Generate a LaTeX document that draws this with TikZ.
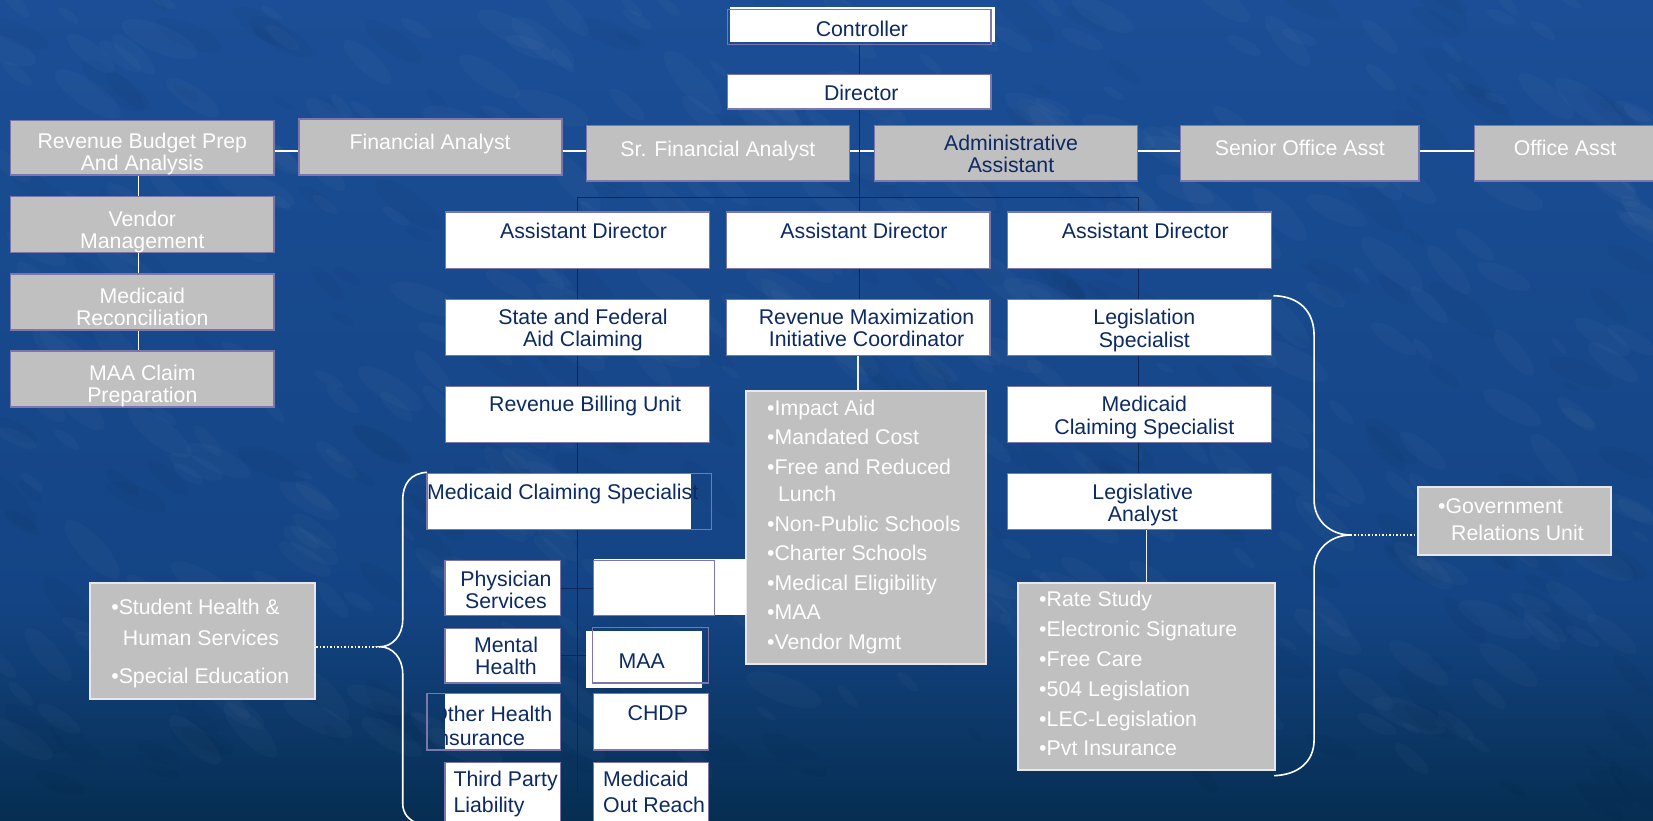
\documentclass[tikz,border=0pt]{standalone}
\usepackage{fontspec}
\setmainfont{Liberation Sans}
\usetikzlibrary{fit}
\definecolor{navy}{RGB}{12,42,100}
\definecolor{boxgray}{RGB}{192,192,192}
\definecolor{boxedge}{RGB}{125,118,170}
\definecolor{darkline}{RGB}{12,38,85}
\definecolor{bgtop}{RGB}{27,78,150}
\definecolor{bgmid}{RGB}{20,68,132}
\definecolor{bgbot}{RGB}{6,46,82}
\definecolor{listedge}{RGB}{232,232,236}
\newcommand\boxfont{\fontsize{21.3}{22.2}\selectfont}
\newcommand\topstrut{\rule{0pt}{15.5pt}}
\newcommand\botstrut{\rule[-5pt]{0pt}{5pt}}
\pgfdeclarelayer{back}
\pgfdeclarelayer{lines}
\pgfsetlayers{back,lines,main}
\begin{document}
\begin{tikzpicture}[x=1.0542pt, y=-1.0542pt,
 gbox/.style={draw=boxedge, fill=boxgray, line width=1.3pt, inner sep=0pt},
 wbox/.style={draw=boxedge, fill=white, line width=1.3pt, inner sep=0pt},
 obox/.style={draw=boxedge, line width=1.3pt, inner sep=0pt},
 lbox/.style={draw=listedge, fill=boxgray, line width=2pt, inner sep=0pt},
 ntxt/.style={text=navy, font=\boxfont, align=center, inner sep=0pt,
   execute at begin node=\topstrut, execute at end node=\botstrut},
 wtxt/.style={text=white, font=\boxfont, align=center, inner sep=0pt,
   execute at begin node=\topstrut, execute at end node=\botstrut},
 wlink/.style={draw=white, line width=1.5pt},
 darkln/.style={draw=darkline, line width=1.2pt},
 bracel/.style={draw=white, line width=1.6pt},
 dotln/.style={draw=white, line width=1.5pt, dotted},
]
\useasboundingbox (0,0) rectangle (1568,778);

% ---------- boxes ----------
\fill[white] (692,7) rectangle (944,40);
\node[obox, fit={(690,9)(940,42)}] (ctrl) {};
\node[wbox, fit={(690,71)(940,103.5)}] (dir) {};

\node[gbox, fit={(10,114)(260,166)}] (rbp) {};
\node[gbox, fit={(283.6,113)(533,166)}] (fa) {};
\node[gbox, fit={(556.5,119)(806,171.7)}] (srfa) {};
\node[gbox, fit={(829.7,119)(1079,171.7)}] (admin) {};
\node[gbox, fit={(1120,119)(1346,171.7)}] (soa) {};
\node[gbox, fit={(1398.8,119)(1590,171.7)}] (oa) {};

\node[gbox, fit={(10,186.6)(260,239.7)}] (vend) {};
\node[gbox, fit={(10,260)(260,313)}] (mrec) {};
\node[gbox, fit={(10,333)(260,386)}] (maac) {};

\node[wbox, fit={(422.8,201)(673,254.6)}] (ad1) {};
\node[wbox, fit={(689,201)(939,254.6)}] (ad2) {};
\node[wbox, fit={(955.8,201)(1206,254.6)}] (ad3) {};
\node[wbox, fit={(422.8,284)(673,337.4)}] (sfac) {};
\node[wbox, fit={(689,284)(939,337.4)}] (revmax) {};
\node[wbox, fit={(955.8,284)(1206,337.4)}] (legsp) {};
\node[wbox, fit={(422.8,366.8)(673,419.5)}] (rbu) {};
\node[wbox, fit={(955.8,366.8)(1206,419.5)}] (mcs2) {};
\node[wbox, fit={(955.8,449)(1206,502)}] (legan) {};

\node[lbox, fit={(707.5,370.6)(935.5,630)}] (impact) {};
\node[lbox, fit={(965.7,552.7)(1209.6,730.4)}] (rate) {};

\fill[white] (405,449) rectangle (655.5,502);
\node[obox, fit={(405,449)(675,502)}] (mcs1) {};
\node[wbox, fit={(422,532)(532,584)}] (phys) {};
\fill[white] (563,530) rectangle (708,583);
\node[obox, fit={(563,532)(678,584)}] (blank) {};
\node[wbox, fit={(422,596)(532,648)}] (mental) {};
\fill[white] (556,598.6) rectangle (666,652.7);
\node[obox, fit={(562,595)(672,648)}] (maa) {};
\fill[white] (422,658) rectangle (532,711.5);
\node[obox, fit={(405,658)(532,711.5)}] (oth) {};
\node[wbox, fit={(563,658)(672,711.5)}] (chdp) {};
\node[wbox, fit={(422,723)(532,795)}] (tpl) {};
\node[wbox, fit={(563,723)(672,795)}] (mor) {};

\node[lbox, fit={(85.4,552.7)(298.8,662.8)}] (student) {};
\node[lbox, fit={(1345,462)(1528,526.6)}] (gov) {};

% ---------- background and connectors ----------
\begin{pgfonlayer}{back}
\shade[top color=bgtop, bottom color=bgmid] (0,0) rectangle (1568,571);
\shade[top color=bgmid, bottom color=bgbot] (0,570) rectangle (1568,778);
\pgfmathsetseed{11}
\foreach \i in {1,...,420}{
  \pgfmathsetmacro\xx{rnd*1568}
  \pgfmathsetmacro\yy{rnd*720}
  \pgfmathsetmacro\rr{3+rnd*10}
  \pgfmathsetmacro\aa{-50+rnd*30}
  \fill[white, opacity=0.022, rotate around={\aa:(\xx,\yy)}] (\xx,\yy) ellipse [x radius=3*\rr, y radius=\rr];
}
\foreach \i in {1,...,260}{
  \pgfmathsetmacro\xx{rnd*1568}
  \pgfmathsetmacro\yy{rnd*760}
  \pgfmathsetmacro\rr{3+rnd*10}
  \pgfmathsetmacro\aa{-50+rnd*30}
  \fill[black, opacity=0.025, rotate around={\aa:(\xx,\yy)}] (\xx,\yy) ellipse [x radius=3*\rr, y radius=\rr];
}
\end{pgfonlayer}

\coordinate (rowy) at (0,143.3);
\coordinate (colx) at (131.5,0);
\coordinate (hl) at (547.5,187.5);
\coordinate (hr) at (1080,187.5);
\coordinate (lb) at (547.5,752);
\coordinate (tipL) at (360.5,613.5);
\coordinate (tipR) at (1281.5,507.5);

\begin{pgfonlayer}{lines}
\draw[wlink] (rbp.east |- rowy) -- (fa.west |- rowy);
\draw[wlink] (fa.east |- rowy) -- (srfa.west |- rowy);
\draw[wlink] (srfa.east |- rowy) -- (admin.west |- rowy);
\draw[wlink] (admin.east |- rowy) -- (soa.west |- rowy);
\draw[wlink] (soa.east |- rowy) -- (oa.west |- rowy);
\draw[wlink] (colx |- rbp.south) -- (colx |- vend.north);
\draw[wlink] (colx |- vend.south) -- (colx |- mrec.north);
\draw[wlink] (colx |- mrec.south) -- (colx |- maac.north);
\draw[wlink, draw=white!88!gray] (revmax.south) -- (revmax.south |- impact.north);
\draw[wlink, draw=white!88!gray] (rate.north) -- (rate.north |- legan.south);

\draw[darkln] (ctrl.south) -- (ctrl.south |- revmax.north);
\draw[darkln] (lb) -- (hl) -- (hr) -- (hr |- legan.north);
\draw[darkln] (phys.east) -- (phys.east -| blank.west);
\draw[darkln] (mental.east) -- (mental.east -| maa.west);
\end{pgfonlayer}

% braces
\draw[bracel] (405,448) .. controls (390,449) and (382,458) .. (382,475) -- (382,588)
  .. controls (382,603) and (372,613.5) .. (tipL)
  .. controls (372,613.5) and (382,624) .. (382,639) -- (382,762)
  .. controls (382,772) and (388,778) .. (396,781);
\draw[bracel] (1208,280.5) .. controls (1232,281) and (1246.5,295) .. (1246.5,318) -- (1246.5,474)
  .. controls (1246.5,494) and (1262,507.5) .. (tipR)
  .. controls (1262,507.5) and (1246.5,521) .. (1246.5,541) -- (1246.5,702)
  .. controls (1246.5,722) and (1232,735) .. (1208.5,735.8);
\draw[dotln] (student.east |- tipL) -- (tipL);
\draw[dotln] (tipR) -- (tipR -| gov.west);

% ---------- texts ----------
\node[ntxt] (tctrl) at (817.6,29.3) {Controller};
\node[ntxt] (tdir) at (817,90.8) {Director};
\node[wtxt] (trbp) at (135,146.5) {Revenue Budget Prep\\And Analysis};
\node[wtxt] (tfa) at (408,137.2) {Financial Analyst};
\node[wtxt] (tsrfa) at (681,143.2) {Sr. Financial Analyst};
\node[ntxt] (tadmin) at (959,148.6) {Administrative\\Assistant};
\node[wtxt] (tsoa) at (1233,142.8) {Senior Office Asst};
\node[wtxt] (toa) at (1484.6,142.8) {Office Asst};
\node[wtxt] (tvend) at (135,220.3) {Vendor\\Management};
\node[wtxt] (tmrec) at (135,293.3) {Medicaid\\Reconciliation};
\node[wtxt] (tmaac) at (135,366.3) {MAA Claim\\Preparation};
\node[ntxt] (tad1) at (553.5,220.8) {Assistant Director};
\node[ntxt] (tad2) at (819.5,220.8) {Assistant Director};
\node[ntxt] (tad3) at (1086.5,220.8) {Assistant Director};
\node[ntxt] (tsfac) at (553,313.5) {State and Federal\\Aid Claiming};
\node[ntxt] (trevmax) at (822,313.5) {Revenue Maximization\\Initiative Coordinator};
\node[ntxt] (tlegsp) at (1085.5,313.8) {Legislation\\Specialist};
\node[ntxt] (trbu) at (555,385.8) {Revenue Billing Unit};
\node[ntxt] (tmcs2) at (1085.5,396.3) {Medicaid\\Claiming Specialist};
\node[ntxt] (tlegan) at (1084,479.3) {Legislative\\Analyst};
\node[ntxt, anchor=west] (tmcs1) at (405,468.8) {Medicaid Claiming Specialist};
\node[ntxt] (tphys) at (480,562.2) {Physician\\Services};
\node[ntxt] (tmental) at (480,624.8) {Mental\\Health};
\node[ntxt] (tmaa) at (608.7,628.8) {MAA};
\begin{scope}
\clip (422,658) rectangle (532,711.5);
\node[ntxt, anchor=west, align=left] (toth) at (409,690.5) {Other Health\\[1.7pt]Insurance};
\end{scope}
\node[ntxt] (tchdp) at (624,678.8) {CHDP};
\node[ntxt, anchor=west, align=left] (ttpl) at (430,753.1) {Third Party\\[3.8pt]Liability};
\node[ntxt, anchor=west, align=left] (tmor) at (572,753.1) {Medicaid\\[3.8pt]Out Reach};

\node[wtxt, anchor=west, align=left, font=\fontsize{21.3}{29.5}\selectfont] (timpact) at (727.5,500.1)
 {•Impact Aid\\•Mandated Cost\\•Free and Reduced\\[-2.1pt]\hspace*{11pt}Lunch\\•Non-Public Schools\\•Charter Schools\\•Medical Eligibility\\•MAA\\•Vendor Mgmt};
\node[wtxt, anchor=west, align=left, font=\fontsize{21.3}{29.8}\selectfont] (trate) at (985.6,641.5)
 {•Rate Study\\•Electronic Signature\\•Free Care\\•504 Legislation\\•LEC-Legislation\\•Pvt Insurance};
\node[wtxt, anchor=west, align=left, font=\fontsize{21.3}{30.6}\selectfont] (tstudent) at (105.4,610.6)
 {•Student Health \&\\\hspace*{11.6pt}Human Services\\[7.2pt]•Special Education};
\node[wtxt, anchor=west, align=left, font=\fontsize{21.3}{27}\selectfont] (tgov) at (1364,495.6)
 {•Government\\\hspace*{13pt}Relations Unit};
\end{tikzpicture}
\end{document}
